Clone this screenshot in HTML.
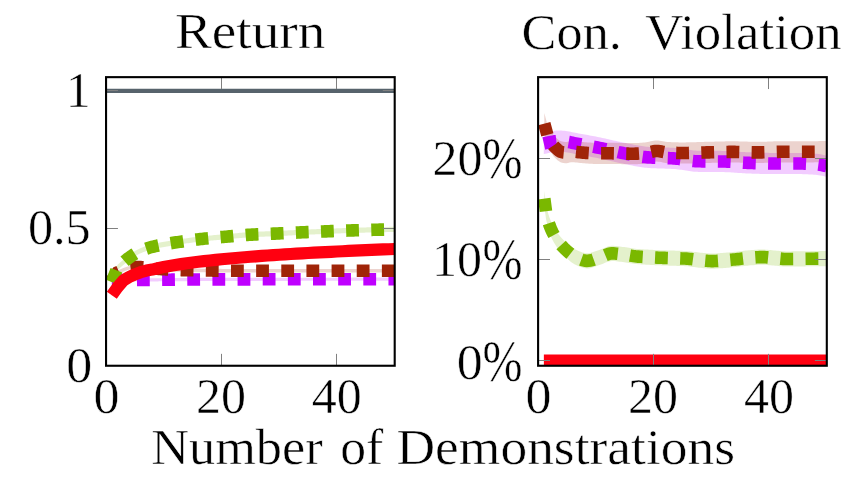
<!DOCTYPE html>
<html>
<head>
<meta charset="utf-8">
<title>Return / Con. Violation</title>
<style>
html, body { margin: 0; padding: 0; background: #ffffff; }
body { width: 857px; height: 479px; overflow: hidden; font-family: "Liberation Serif", serif; }
svg { display: block; }
</style>
</head>
<body>
<svg width="857" height="479" viewBox="0 0 857 479">
<rect x="0" y="0" width="857" height="479" fill="#ffffff"/>
<defs>
<clipPath id="cl"><rect x="106.05" y="77.15" width="288.65" height="288.6"/></clipPath>
<clipPath id="cr"><rect x="538.1" y="77.15" width="288.69999999999993" height="288.6"/></clipPath>
</defs>
<g clip-path="url(#cl)" fill="none">
<line x1="106.05" y1="90.8" x2="394.7" y2="90.8" stroke="#57636c" stroke-width="4.2"/>
<path d="M111.82,278.70 L113.40,278.68 L114.98,278.65 L116.56,278.63 L118.14,278.61 L119.72,278.59 L121.30,278.56 L122.88,278.54 L124.46,278.52 L126.04,278.50 L127.61,278.48 L129.19,278.46 L130.77,278.44 L132.35,278.43 L133.93,278.41 L135.51,278.39 L137.09,278.38 L138.67,278.36 L140.25,278.35 L141.83,278.33 L143.41,278.32 L144.99,278.30 L146.57,278.29 L148.15,278.27 L149.73,278.26 L151.31,278.25 L152.89,278.23 L154.47,278.22 L156.05,278.20 L157.63,278.19 L159.20,278.17 L160.78,278.16 L162.36,278.15 L163.94,278.13 L165.52,278.12 L167.10,278.11 L168.68,278.09 L170.26,278.08 L171.84,278.07 L173.42,278.06 L175.00,278.04 L176.58,278.03 L178.16,278.02 L179.74,278.01 L181.32,278.00 L182.90,277.99 L184.48,277.97 L186.06,277.96 L187.64,277.95 L189.22,277.94 L190.79,277.93 L192.37,277.92 L193.95,277.91 L195.53,277.90 L197.11,277.90 L198.69,277.89 L200.27,277.88 L201.85,277.87 L203.43,277.86 L205.01,277.86 L206.59,277.85 L208.17,277.84 L209.75,277.84 L211.33,277.83 L212.91,277.82 L214.49,277.82 L216.07,277.81 L217.65,277.81 L219.23,277.81 L220.81,277.80 L222.38,277.80 L223.96,277.79 L225.54,277.79 L227.12,277.79 L228.70,277.78 L230.28,277.78 L231.86,277.78 L233.44,277.77 L235.02,277.77 L236.60,277.77 L238.18,277.77 L239.76,277.76 L241.34,277.76 L242.92,277.76 L244.50,277.75 L246.08,277.75 L247.66,277.75 L249.24,277.74 L250.82,277.74 L252.40,277.74 L253.97,277.74 L255.55,277.73 L257.13,277.73 L258.71,277.73 L260.29,277.72 L261.87,277.72 L263.45,277.72 L265.03,277.72 L266.61,277.71 L268.19,277.71 L269.77,277.71 L271.35,277.71 L272.93,277.70 L274.51,277.70 L276.09,277.70 L277.67,277.70 L279.25,277.69 L280.83,277.69 L282.41,277.69 L283.99,277.69 L285.56,277.68 L287.14,277.68 L288.72,277.68 L290.30,277.68 L291.88,277.67 L293.46,277.67 L295.04,277.67 L296.62,277.67 L298.20,277.67 L299.78,277.66 L301.36,277.66 L302.94,277.66 L304.52,277.66 L306.10,277.66 L307.68,277.65 L309.26,277.65 L310.84,277.65 L312.42,277.65 L314.00,277.65 L315.58,277.64 L317.15,277.64 L318.73,277.64 L320.31,277.64 L321.89,277.64 L323.47,277.64 L325.05,277.63 L326.63,277.63 L328.21,277.63 L329.79,277.63 L331.37,277.63 L332.95,277.63 L334.53,277.63 L336.11,277.62 L337.69,277.62 L339.27,277.62 L340.85,277.62 L342.43,277.62 L344.01,277.62 L345.59,277.62 L347.17,277.62 L348.74,277.62 L350.32,277.61 L351.90,277.61 L353.48,277.61 L355.06,277.61 L356.64,277.61 L358.22,277.61 L359.80,277.61 L361.38,277.61 L362.96,277.61 L364.54,277.61 L366.12,277.61 L367.70,277.61 L369.28,277.60 L370.86,277.60 L372.44,277.60 L374.02,277.60 L375.60,277.60 L377.18,277.60 L378.76,277.60 L380.33,277.60 L381.91,277.60 L383.49,277.60 L385.07,277.60 L386.65,277.60 L388.23,277.60 L389.81,277.60 L391.39,277.60 L392.97,277.60 L394.55,277.60 L394.55,280.80 L392.97,280.80 L391.39,280.80 L389.81,280.80 L388.23,280.80 L386.65,280.80 L385.07,280.80 L383.49,280.80 L381.91,280.80 L380.33,280.80 L378.76,280.80 L377.18,280.80 L375.60,280.80 L374.02,280.80 L372.44,280.80 L370.86,280.80 L369.28,280.80 L367.70,280.81 L366.12,280.81 L364.54,280.81 L362.96,280.81 L361.38,280.81 L359.80,280.81 L358.22,280.81 L356.64,280.81 L355.06,280.81 L353.48,280.81 L351.90,280.81 L350.32,280.81 L348.74,280.82 L347.17,280.82 L345.59,280.82 L344.01,280.82 L342.43,280.82 L340.85,280.82 L339.27,280.82 L337.69,280.82 L336.11,280.82 L334.53,280.83 L332.95,280.83 L331.37,280.83 L329.79,280.83 L328.21,280.83 L326.63,280.83 L325.05,280.83 L323.47,280.84 L321.89,280.84 L320.31,280.84 L318.73,280.84 L317.15,280.84 L315.58,280.84 L314.00,280.85 L312.42,280.85 L310.84,280.85 L309.26,280.85 L307.68,280.85 L306.10,280.86 L304.52,280.86 L302.94,280.86 L301.36,280.86 L299.78,280.86 L298.20,280.87 L296.62,280.87 L295.04,280.87 L293.46,280.87 L291.88,280.87 L290.30,280.88 L288.72,280.88 L287.14,280.88 L285.56,280.88 L283.99,280.89 L282.41,280.89 L280.83,280.89 L279.25,280.89 L277.67,280.90 L276.09,280.90 L274.51,280.90 L272.93,280.90 L271.35,280.91 L269.77,280.91 L268.19,280.91 L266.61,280.91 L265.03,280.92 L263.45,280.92 L261.87,280.92 L260.29,280.92 L258.71,280.93 L257.13,280.93 L255.55,280.93 L253.97,280.94 L252.40,280.94 L250.82,280.94 L249.24,280.94 L247.66,280.95 L246.08,280.95 L244.50,280.95 L242.92,280.96 L241.34,280.96 L239.76,280.96 L238.18,280.97 L236.60,280.97 L235.02,280.97 L233.44,280.97 L231.86,280.98 L230.28,280.98 L228.70,280.98 L227.12,280.99 L225.54,280.99 L223.96,280.99 L222.38,281.00 L220.81,281.00 L219.23,281.01 L217.65,281.01 L216.07,281.01 L214.49,281.02 L212.91,281.02 L211.33,281.03 L209.75,281.04 L208.17,281.04 L206.59,281.05 L205.01,281.06 L203.43,281.06 L201.85,281.07 L200.27,281.08 L198.69,281.09 L197.11,281.10 L195.53,281.10 L193.95,281.11 L192.37,281.12 L190.79,281.13 L189.22,281.14 L187.64,281.15 L186.06,281.16 L184.48,281.17 L182.90,281.19 L181.32,281.20 L179.74,281.21 L178.16,281.22 L176.58,281.23 L175.00,281.24 L173.42,281.26 L171.84,281.27 L170.26,281.28 L168.68,281.29 L167.10,281.31 L165.52,281.32 L163.94,281.33 L162.36,281.35 L160.78,281.36 L159.20,281.37 L157.63,281.39 L156.05,281.40 L154.47,281.42 L152.89,281.43 L151.31,281.45 L149.73,281.46 L148.15,281.47 L146.57,281.49 L144.99,281.50 L143.41,281.52 L141.83,281.53 L140.25,281.55 L138.67,281.56 L137.09,281.58 L135.51,281.59 L133.93,281.61 L132.35,281.63 L130.77,281.64 L129.19,281.66 L127.61,281.68 L126.04,281.70 L124.46,281.72 L122.88,281.74 L121.30,281.76 L119.72,281.79 L118.14,281.81 L116.56,281.83 L114.98,281.85 L113.40,281.88 L111.82,281.90 Z" fill="#bf00ff" fill-opacity="0.2"/>
<path d="M111.77,278.70 L117.54,270.60 L124.00,267.80 L125.51,267.21 L127.02,266.69 L128.53,266.24 L130.04,265.91 L131.56,265.68 L133.07,265.48 L134.58,265.32 L136.09,265.22 L137.60,265.20 L139.11,265.25 L140.62,265.33 L142.13,265.43 L143.65,265.53 L145.16,265.69 L146.67,265.90 L148.18,266.12 L149.69,266.34 L151.20,266.53 L152.71,266.66 L154.22,266.78 L155.73,266.89 L157.25,267.01 L158.76,267.12 L160.27,267.22 L161.78,267.33 L163.29,267.43 L164.80,267.52 L166.31,267.62 L167.82,267.70 L169.34,267.79 L170.85,267.87 L172.36,267.94 L173.87,268.01 L175.38,268.08 L176.89,268.14 L178.40,268.20 L179.91,268.25 L181.42,268.30 L182.94,268.34 L184.45,268.37 L185.96,268.40 L187.47,268.42 L188.98,268.45 L190.49,268.48 L192.00,268.50 L193.51,268.52 L195.03,268.55 L196.54,268.57 L198.05,268.59 L199.56,268.61 L201.07,268.64 L202.58,268.66 L204.09,268.68 L205.60,268.70 L207.11,268.72 L208.63,268.73 L210.14,268.75 L211.65,268.77 L213.16,268.79 L214.67,268.80 L216.18,268.82 L217.69,268.83 L219.20,268.85 L220.72,268.86 L222.23,268.88 L223.74,268.89 L225.25,268.90 L226.76,268.91 L228.27,268.92 L229.78,268.93 L231.29,268.94 L232.80,268.95 L234.32,268.96 L235.83,268.97 L237.34,268.97 L238.85,268.98 L240.36,268.98 L241.87,268.99 L243.38,268.99 L244.89,269.00 L246.41,269.00 L247.92,269.00 L249.43,269.00 L250.94,269.00 L252.45,269.00 L253.96,269.00 L255.47,269.00 L256.98,269.00 L258.49,269.00 L260.01,269.00 L261.52,269.00 L263.03,269.00 L264.54,269.00 L266.05,269.00 L267.56,269.00 L269.07,269.00 L270.58,269.00 L272.09,269.00 L273.61,269.00 L275.12,269.00 L276.63,269.00 L278.14,269.00 L279.65,269.00 L281.16,269.00 L282.67,269.00 L284.18,269.00 L285.70,269.00 L287.21,269.00 L288.72,269.00 L290.23,269.00 L291.74,269.00 L293.25,269.00 L294.76,269.00 L296.27,269.00 L297.78,269.00 L299.30,269.00 L300.81,269.00 L302.32,269.00 L303.83,269.00 L305.34,269.00 L306.85,269.00 L308.36,269.00 L309.87,269.00 L311.39,269.00 L312.90,269.00 L314.41,269.00 L315.92,269.00 L317.43,269.00 L318.94,269.00 L320.45,269.00 L321.96,269.00 L323.47,269.00 L324.99,269.00 L326.50,269.00 L328.01,269.00 L329.52,269.00 L331.03,269.00 L332.54,269.00 L334.05,269.00 L335.56,269.00 L337.08,269.00 L338.59,269.00 L340.10,269.00 L341.61,269.00 L343.12,269.00 L344.63,269.00 L346.14,269.00 L347.65,269.00 L349.16,269.00 L350.68,269.00 L352.19,269.00 L353.70,269.00 L355.21,269.00 L356.72,269.00 L358.23,269.00 L359.74,269.00 L361.25,269.00 L362.77,269.00 L364.28,269.00 L365.79,269.00 L367.30,269.00 L368.81,269.00 L370.32,269.00 L371.83,269.00 L373.34,269.00 L374.85,269.00 L376.37,269.00 L377.88,269.00 L379.39,269.00 L380.90,269.00 L382.41,269.00 L383.92,269.00 L385.43,269.00 L386.94,269.00 L388.46,269.00 L389.97,269.00 L391.48,269.00 L392.99,269.00 L394.50,269.00 L394.50,272.60 L392.99,272.60 L391.48,272.60 L389.97,272.60 L388.46,272.60 L386.94,272.60 L385.43,272.60 L383.92,272.60 L382.41,272.60 L380.90,272.60 L379.39,272.60 L377.88,272.60 L376.37,272.60 L374.85,272.60 L373.34,272.60 L371.83,272.60 L370.32,272.60 L368.81,272.60 L367.30,272.60 L365.79,272.60 L364.28,272.60 L362.77,272.60 L361.25,272.60 L359.74,272.60 L358.23,272.60 L356.72,272.60 L355.21,272.60 L353.70,272.60 L352.19,272.60 L350.68,272.60 L349.16,272.60 L347.65,272.60 L346.14,272.60 L344.63,272.60 L343.12,272.60 L341.61,272.60 L340.10,272.60 L338.59,272.60 L337.08,272.60 L335.56,272.60 L334.05,272.60 L332.54,272.60 L331.03,272.60 L329.52,272.60 L328.01,272.60 L326.50,272.60 L324.99,272.60 L323.47,272.60 L321.96,272.60 L320.45,272.60 L318.94,272.60 L317.43,272.60 L315.92,272.60 L314.41,272.60 L312.90,272.60 L311.39,272.60 L309.87,272.60 L308.36,272.60 L306.85,272.60 L305.34,272.60 L303.83,272.60 L302.32,272.60 L300.81,272.60 L299.30,272.60 L297.78,272.60 L296.27,272.60 L294.76,272.60 L293.25,272.60 L291.74,272.60 L290.23,272.60 L288.72,272.60 L287.21,272.60 L285.70,272.60 L284.18,272.60 L282.67,272.60 L281.16,272.60 L279.65,272.60 L278.14,272.60 L276.63,272.60 L275.12,272.60 L273.61,272.60 L272.09,272.60 L270.58,272.60 L269.07,272.60 L267.56,272.60 L266.05,272.60 L264.54,272.60 L263.03,272.60 L261.52,272.60 L260.01,272.60 L258.49,272.60 L256.98,272.60 L255.47,272.60 L253.96,272.60 L252.45,272.60 L250.94,272.60 L249.43,272.60 L247.92,272.60 L246.41,272.60 L244.89,272.60 L243.38,272.59 L241.87,272.59 L240.36,272.58 L238.85,272.58 L237.34,272.57 L235.83,272.57 L234.32,272.56 L232.80,272.55 L231.29,272.54 L229.78,272.53 L228.27,272.52 L226.76,272.51 L225.25,272.50 L223.74,272.49 L222.23,272.48 L220.72,272.46 L219.20,272.45 L217.69,272.43 L216.18,272.42 L214.67,272.40 L213.16,272.39 L211.65,272.37 L210.14,272.35 L208.63,272.33 L207.11,272.32 L205.60,272.30 L204.09,272.28 L202.58,272.26 L201.07,272.24 L199.56,272.21 L198.05,272.19 L196.54,272.17 L195.03,272.15 L193.51,272.12 L192.00,272.10 L190.49,272.08 L188.98,272.05 L187.47,272.02 L185.96,272.00 L184.45,271.97 L182.94,271.94 L181.42,271.90 L179.91,271.85 L178.40,271.80 L176.89,271.74 L175.38,271.68 L173.87,271.61 L172.36,271.54 L170.85,271.47 L169.34,271.39 L167.82,271.30 L166.31,271.22 L164.80,271.12 L163.29,271.03 L161.78,270.93 L160.27,270.82 L158.76,270.72 L157.25,270.61 L155.73,270.49 L154.22,270.38 L152.71,270.26 L151.20,270.13 L149.69,269.94 L148.18,269.72 L146.67,269.50 L145.16,269.29 L143.65,269.13 L142.13,269.03 L140.62,268.93 L139.11,268.85 L137.60,268.80 L136.09,268.82 L134.58,268.92 L133.07,269.08 L131.56,269.28 L130.04,269.51 L128.53,269.84 L127.02,270.29 L125.51,270.81 L124.00,271.40 L117.54,274.20 L111.77,282.30 Z" fill="#a02408" fill-opacity="0.2"/>
<path d="M111.77,279.50 L117.54,264.70 L123.30,259.80 L124.82,258.49 L126.33,257.22 L127.85,256.02 L129.36,254.90 L130.88,253.84 L132.39,252.80 L133.91,251.79 L135.42,250.84 L136.94,249.95 L138.45,249.13 L139.97,248.41 L141.48,247.77 L143.00,247.17 L144.51,246.60 L146.03,246.07 L147.54,245.58 L149.06,245.12 L150.57,244.70 L152.09,244.30 L153.60,243.93 L155.12,243.58 L156.63,243.24 L158.15,242.92 L159.66,242.61 L161.18,242.31 L162.69,242.02 L164.21,241.74 L165.72,241.47 L167.24,241.21 L168.75,240.95 L170.27,240.70 L171.78,240.46 L173.30,240.22 L174.81,239.98 L176.33,239.74 L177.84,239.51 L179.36,239.27 L180.87,239.05 L182.39,238.82 L183.90,238.60 L185.42,238.38 L186.93,238.17 L188.45,237.96 L189.96,237.76 L191.48,237.56 L192.99,237.37 L194.51,237.17 L196.02,236.99 L197.54,236.81 L199.05,236.63 L200.57,236.46 L202.08,236.29 L203.60,236.13 L205.11,235.97 L206.63,235.82 L208.14,235.67 L209.66,235.52 L211.17,235.38 L212.69,235.24 L214.21,235.10 L215.72,234.97 L217.24,234.84 L218.75,234.70 L220.27,234.57 L221.78,234.45 L223.30,234.32 L224.81,234.19 L226.33,234.06 L227.84,233.93 L229.36,233.80 L230.87,233.66 L232.39,233.53 L233.90,233.39 L235.42,233.26 L236.93,233.13 L238.45,232.99 L239.96,232.87 L241.48,232.74 L242.99,232.62 L244.51,232.50 L246.02,232.38 L247.54,232.28 L249.05,232.17 L250.57,232.08 L252.08,231.99 L253.60,231.91 L255.11,231.83 L256.63,231.75 L258.14,231.68 L259.66,231.62 L261.17,231.55 L262.69,231.49 L264.20,231.43 L265.72,231.37 L267.23,231.31 L268.75,231.25 L270.26,231.19 L271.78,231.13 L273.29,231.07 L274.81,231.00 L276.32,230.93 L277.84,230.87 L279.35,230.80 L280.87,230.72 L282.38,230.65 L283.90,230.58 L285.41,230.50 L286.93,230.43 L288.44,230.36 L289.96,230.28 L291.47,230.21 L292.99,230.13 L294.50,230.06 L296.02,229.99 L297.53,229.92 L299.05,229.85 L300.56,229.78 L302.08,229.71 L303.59,229.64 L305.11,229.58 L306.63,229.52 L308.14,229.45 L309.66,229.39 L311.17,229.33 L312.69,229.27 L314.20,229.21 L315.72,229.15 L317.23,229.09 L318.75,229.03 L320.26,228.97 L321.78,228.91 L323.29,228.85 L324.81,228.79 L326.32,228.74 L327.84,228.68 L329.35,228.62 L330.87,228.56 L332.38,228.51 L333.90,228.45 L335.41,228.39 L336.93,228.34 L338.44,228.28 L339.96,228.23 L341.47,228.17 L342.99,228.12 L344.50,228.06 L346.02,228.01 L347.53,227.96 L349.05,227.91 L350.56,227.86 L352.08,227.81 L353.59,227.76 L355.11,227.72 L356.62,227.67 L358.14,227.62 L359.65,227.58 L361.17,227.53 L362.68,227.49 L364.20,227.44 L365.71,227.40 L367.23,227.36 L368.74,227.32 L370.26,227.28 L371.77,227.24 L373.29,227.20 L374.80,227.16 L376.32,227.13 L377.83,227.10 L379.35,227.07 L380.86,227.03 L382.38,227.00 L383.89,226.98 L385.41,226.95 L386.92,226.92 L388.44,226.89 L389.95,226.87 L391.47,226.84 L392.98,226.82 L394.50,226.80 L394.50,232.00 L392.98,232.02 L391.47,232.04 L389.95,232.07 L388.44,232.09 L386.92,232.12 L385.41,232.15 L383.89,232.18 L382.38,232.20 L380.86,232.23 L379.35,232.27 L377.83,232.30 L376.32,232.33 L374.80,232.36 L373.29,232.40 L371.77,232.44 L370.26,232.48 L368.74,232.52 L367.23,232.56 L365.71,232.60 L364.20,232.64 L362.68,232.69 L361.17,232.73 L359.65,232.78 L358.14,232.82 L356.62,232.87 L355.11,232.92 L353.59,232.96 L352.08,233.01 L350.56,233.06 L349.05,233.11 L347.53,233.16 L346.02,233.21 L344.50,233.26 L342.99,233.32 L341.47,233.37 L339.96,233.43 L338.44,233.48 L336.93,233.54 L335.41,233.59 L333.90,233.65 L332.38,233.71 L330.87,233.76 L329.35,233.82 L327.84,233.88 L326.32,233.94 L324.81,233.99 L323.29,234.05 L321.78,234.11 L320.26,234.17 L318.75,234.23 L317.23,234.29 L315.72,234.35 L314.20,234.41 L312.69,234.47 L311.17,234.53 L309.66,234.59 L308.14,234.65 L306.63,234.72 L305.11,234.78 L303.59,234.84 L302.08,234.91 L300.56,234.98 L299.05,235.05 L297.53,235.12 L296.02,235.19 L294.50,235.26 L292.99,235.33 L291.47,235.41 L289.96,235.48 L288.44,235.56 L286.93,235.63 L285.41,235.70 L283.90,235.78 L282.38,235.85 L280.87,235.92 L279.35,236.00 L277.84,236.07 L276.32,236.13 L274.81,236.20 L273.29,236.27 L271.78,236.33 L270.26,236.39 L268.75,236.45 L267.23,236.51 L265.72,236.57 L264.20,236.63 L262.69,236.69 L261.17,236.75 L259.66,236.82 L258.14,236.88 L256.63,236.95 L255.11,237.03 L253.60,237.11 L252.08,237.19 L250.57,237.28 L249.05,237.37 L247.54,237.48 L246.02,237.58 L244.51,237.70 L242.99,237.82 L241.48,237.94 L239.96,238.07 L238.45,238.19 L236.93,238.33 L235.42,238.46 L233.90,238.59 L232.39,238.73 L230.87,238.86 L229.36,239.00 L227.84,239.13 L226.33,239.26 L224.81,239.39 L223.30,239.52 L221.78,239.65 L220.27,239.77 L218.75,239.90 L217.24,240.04 L215.72,240.17 L214.21,240.30 L212.69,240.44 L211.17,240.58 L209.66,240.72 L208.14,240.87 L206.63,241.02 L205.11,241.17 L203.60,241.33 L202.08,241.49 L200.57,241.66 L199.05,241.83 L197.54,242.01 L196.02,242.19 L194.51,242.37 L192.99,242.57 L191.48,242.76 L189.96,242.96 L188.45,243.16 L186.93,243.37 L185.42,243.58 L183.90,243.80 L182.39,244.02 L180.87,244.25 L179.36,244.47 L177.84,244.71 L176.33,244.94 L174.81,245.18 L173.30,245.42 L171.78,245.66 L170.27,245.90 L168.75,246.15 L167.24,246.41 L165.72,246.67 L164.21,246.94 L162.69,247.22 L161.18,247.51 L159.66,247.81 L158.15,248.12 L156.63,248.44 L155.12,248.78 L153.60,249.13 L152.09,249.50 L150.57,249.90 L149.06,250.32 L147.54,250.78 L146.03,251.27 L144.51,251.80 L143.00,252.37 L141.48,252.97 L139.97,253.61 L138.45,254.33 L136.94,255.15 L135.42,256.04 L133.91,256.99 L132.39,258.00 L130.88,259.04 L129.36,260.10 L127.85,261.22 L126.33,262.42 L124.82,263.69 L123.30,265.00 L117.54,269.90 L111.77,284.70 Z" fill="#7ab800" fill-opacity="0.2"/>
<path d="M111.82,294.30 L117.59,286.19 L123.36,279.46 L129.13,276.03 L134.90,273.42 L140.67,271.22 L146.44,269.57 L152.21,268.60 L157.98,267.27 L163.75,266.09 L169.52,265.02 L175.29,264.04 L181.06,263.14 L186.83,262.31 L192.60,261.53 L198.37,260.81 L204.14,260.12 L209.91,259.48 L215.68,258.87 L221.45,258.30 L227.22,257.75 L232.99,257.23 L238.76,256.73 L244.53,256.25 L250.30,255.79 L256.07,255.35 L261.84,254.93 L267.61,254.52 L273.38,254.12 L279.15,253.74 L284.92,253.37 L290.69,253.02 L296.46,252.67 L302.23,252.34 L308.00,252.01 L313.77,251.69 L319.54,251.39 L325.31,251.09 L331.08,250.79 L336.85,250.51 L342.62,250.23 L348.39,249.96 L354.16,249.70 L359.93,249.44 L365.70,249.19 L371.47,248.94 L377.24,248.70 L383.01,248.46 L388.78,248.23 L394.55,248.00 L394.55,250.00 L388.78,250.23 L383.01,250.46 L377.24,250.70 L371.47,250.94 L365.70,251.19 L359.93,251.44 L354.16,251.70 L348.39,251.96 L342.62,252.23 L336.85,252.51 L331.08,252.79 L325.31,253.09 L319.54,253.39 L313.77,253.69 L308.00,254.01 L302.23,254.34 L296.46,254.67 L290.69,255.02 L284.92,255.37 L279.15,255.74 L273.38,256.12 L267.61,256.52 L261.84,256.93 L256.07,257.35 L250.30,257.79 L244.53,258.25 L238.76,258.73 L232.99,259.23 L227.22,259.75 L221.45,260.30 L215.68,260.87 L209.91,261.48 L204.14,262.12 L198.37,262.81 L192.60,263.53 L186.83,264.31 L181.06,265.14 L175.29,266.04 L169.52,267.02 L163.75,268.09 L157.98,269.27 L152.21,270.60 L146.44,271.57 L140.67,273.22 L134.90,275.42 L129.13,278.03 L123.36,281.46 L117.59,288.19 L111.82,296.30 Z" fill="#ff0010" fill-opacity="0.2"/>
<path d="M111.82,280.30 L113.40,280.28 L114.98,280.25 L116.56,280.23 L118.14,280.21 L119.72,280.19 L121.30,280.16 L122.88,280.14 L124.46,280.12 L126.04,280.10 L127.61,280.08 L129.19,280.06 L130.77,280.04 L132.35,280.03 L133.93,280.01 L135.51,279.99 L137.09,279.98 L138.67,279.96 L140.25,279.95 L141.83,279.93 L143.41,279.92 L144.99,279.90 L146.57,279.89 L148.15,279.87 L149.73,279.86 L151.31,279.85 L152.89,279.83 L154.47,279.82 L156.05,279.80 L157.63,279.79 L159.20,279.77 L160.78,279.76 L162.36,279.75 L163.94,279.73 L165.52,279.72 L167.10,279.71 L168.68,279.69 L170.26,279.68 L171.84,279.67 L173.42,279.66 L175.00,279.64 L176.58,279.63 L178.16,279.62 L179.74,279.61 L181.32,279.60 L182.90,279.59 L184.48,279.57 L186.06,279.56 L187.64,279.55 L189.22,279.54 L190.79,279.53 L192.37,279.52 L193.95,279.51 L195.53,279.50 L197.11,279.50 L198.69,279.49 L200.27,279.48 L201.85,279.47 L203.43,279.46 L205.01,279.46 L206.59,279.45 L208.17,279.44 L209.75,279.44 L211.33,279.43 L212.91,279.42 L214.49,279.42 L216.07,279.41 L217.65,279.41 L219.23,279.41 L220.81,279.40 L222.38,279.40 L223.96,279.39 L225.54,279.39 L227.12,279.39 L228.70,279.38 L230.28,279.38 L231.86,279.38 L233.44,279.37 L235.02,279.37 L236.60,279.37 L238.18,279.37 L239.76,279.36 L241.34,279.36 L242.92,279.36 L244.50,279.35 L246.08,279.35 L247.66,279.35 L249.24,279.34 L250.82,279.34 L252.40,279.34 L253.97,279.34 L255.55,279.33 L257.13,279.33 L258.71,279.33 L260.29,279.32 L261.87,279.32 L263.45,279.32 L265.03,279.32 L266.61,279.31 L268.19,279.31 L269.77,279.31 L271.35,279.31 L272.93,279.30 L274.51,279.30 L276.09,279.30 L277.67,279.30 L279.25,279.29 L280.83,279.29 L282.41,279.29 L283.99,279.29 L285.56,279.28 L287.14,279.28 L288.72,279.28 L290.30,279.28 L291.88,279.27 L293.46,279.27 L295.04,279.27 L296.62,279.27 L298.20,279.27 L299.78,279.26 L301.36,279.26 L302.94,279.26 L304.52,279.26 L306.10,279.26 L307.68,279.25 L309.26,279.25 L310.84,279.25 L312.42,279.25 L314.00,279.25 L315.58,279.24 L317.15,279.24 L318.73,279.24 L320.31,279.24 L321.89,279.24 L323.47,279.24 L325.05,279.23 L326.63,279.23 L328.21,279.23 L329.79,279.23 L331.37,279.23 L332.95,279.23 L334.53,279.23 L336.11,279.22 L337.69,279.22 L339.27,279.22 L340.85,279.22 L342.43,279.22 L344.01,279.22 L345.59,279.22 L347.17,279.22 L348.74,279.22 L350.32,279.21 L351.90,279.21 L353.48,279.21 L355.06,279.21 L356.64,279.21 L358.22,279.21 L359.80,279.21 L361.38,279.21 L362.96,279.21 L364.54,279.21 L366.12,279.21 L367.70,279.21 L369.28,279.20 L370.86,279.20 L372.44,279.20 L374.02,279.20 L375.60,279.20 L377.18,279.20 L378.76,279.20 L380.33,279.20 L381.91,279.20 L383.49,279.20 L385.07,279.20 L386.65,279.20 L388.23,279.20 L389.81,279.20 L391.39,279.20 L392.97,279.20 L394.55,279.20" stroke="#bf00ff" stroke-width="12.6" stroke-dasharray="12.8 12.35"/>
<path d="M111.77,280.50 L117.54,272.40 L124.00,269.60 L125.51,269.01 L127.02,268.49 L128.53,268.04 L130.04,267.71 L131.56,267.48 L133.07,267.28 L134.58,267.12 L136.09,267.02 L137.60,267.00 L139.11,267.05 L140.62,267.13 L142.13,267.23 L143.65,267.33 L145.16,267.49 L146.67,267.70 L148.18,267.92 L149.69,268.14 L151.20,268.33 L152.71,268.46 L154.22,268.58 L155.73,268.69 L157.25,268.81 L158.76,268.92 L160.27,269.02 L161.78,269.13 L163.29,269.23 L164.80,269.32 L166.31,269.42 L167.82,269.50 L169.34,269.59 L170.85,269.67 L172.36,269.74 L173.87,269.81 L175.38,269.88 L176.89,269.94 L178.40,270.00 L179.91,270.05 L181.42,270.10 L182.94,270.14 L184.45,270.17 L185.96,270.20 L187.47,270.22 L188.98,270.25 L190.49,270.28 L192.00,270.30 L193.51,270.32 L195.03,270.35 L196.54,270.37 L198.05,270.39 L199.56,270.41 L201.07,270.44 L202.58,270.46 L204.09,270.48 L205.60,270.50 L207.11,270.52 L208.63,270.53 L210.14,270.55 L211.65,270.57 L213.16,270.59 L214.67,270.60 L216.18,270.62 L217.69,270.63 L219.20,270.65 L220.72,270.66 L222.23,270.68 L223.74,270.69 L225.25,270.70 L226.76,270.71 L228.27,270.72 L229.78,270.73 L231.29,270.74 L232.80,270.75 L234.32,270.76 L235.83,270.77 L237.34,270.77 L238.85,270.78 L240.36,270.78 L241.87,270.79 L243.38,270.79 L244.89,270.80 L246.41,270.80 L247.92,270.80 L249.43,270.80 L250.94,270.80 L252.45,270.80 L253.96,270.80 L255.47,270.80 L256.98,270.80 L258.49,270.80 L260.01,270.80 L261.52,270.80 L263.03,270.80 L264.54,270.80 L266.05,270.80 L267.56,270.80 L269.07,270.80 L270.58,270.80 L272.09,270.80 L273.61,270.80 L275.12,270.80 L276.63,270.80 L278.14,270.80 L279.65,270.80 L281.16,270.80 L282.67,270.80 L284.18,270.80 L285.70,270.80 L287.21,270.80 L288.72,270.80 L290.23,270.80 L291.74,270.80 L293.25,270.80 L294.76,270.80 L296.27,270.80 L297.78,270.80 L299.30,270.80 L300.81,270.80 L302.32,270.80 L303.83,270.80 L305.34,270.80 L306.85,270.80 L308.36,270.80 L309.87,270.80 L311.39,270.80 L312.90,270.80 L314.41,270.80 L315.92,270.80 L317.43,270.80 L318.94,270.80 L320.45,270.80 L321.96,270.80 L323.47,270.80 L324.99,270.80 L326.50,270.80 L328.01,270.80 L329.52,270.80 L331.03,270.80 L332.54,270.80 L334.05,270.80 L335.56,270.80 L337.08,270.80 L338.59,270.80 L340.10,270.80 L341.61,270.80 L343.12,270.80 L344.63,270.80 L346.14,270.80 L347.65,270.80 L349.16,270.80 L350.68,270.80 L352.19,270.80 L353.70,270.80 L355.21,270.80 L356.72,270.80 L358.23,270.80 L359.74,270.80 L361.25,270.80 L362.77,270.80 L364.28,270.80 L365.79,270.80 L367.30,270.80 L368.81,270.80 L370.32,270.80 L371.83,270.80 L373.34,270.80 L374.85,270.80 L376.37,270.80 L377.88,270.80 L379.39,270.80 L380.90,270.80 L382.41,270.80 L383.92,270.80 L385.43,270.80 L386.94,270.80 L388.46,270.80 L389.97,270.80 L391.48,270.80 L392.99,270.80 L394.50,270.80" stroke="#a02408" stroke-width="12.6" stroke-dasharray="12.8 12.35" stroke-dashoffset="1.3"/>
<path d="M111.77,282.10 L117.54,267.30 L123.30,262.40 L124.82,261.09 L126.33,259.82 L127.85,258.62 L129.36,257.50 L130.88,256.44 L132.39,255.40 L133.91,254.39 L135.42,253.44 L136.94,252.55 L138.45,251.73 L139.97,251.01 L141.48,250.37 L143.00,249.77 L144.51,249.20 L146.03,248.67 L147.54,248.18 L149.06,247.72 L150.57,247.30 L152.09,246.90 L153.60,246.53 L155.12,246.18 L156.63,245.84 L158.15,245.52 L159.66,245.21 L161.18,244.91 L162.69,244.62 L164.21,244.34 L165.72,244.07 L167.24,243.81 L168.75,243.55 L170.27,243.30 L171.78,243.06 L173.30,242.82 L174.81,242.58 L176.33,242.34 L177.84,242.11 L179.36,241.87 L180.87,241.65 L182.39,241.42 L183.90,241.20 L185.42,240.98 L186.93,240.77 L188.45,240.56 L189.96,240.36 L191.48,240.16 L192.99,239.97 L194.51,239.77 L196.02,239.59 L197.54,239.41 L199.05,239.23 L200.57,239.06 L202.08,238.89 L203.60,238.73 L205.11,238.57 L206.63,238.42 L208.14,238.27 L209.66,238.12 L211.17,237.98 L212.69,237.84 L214.21,237.70 L215.72,237.57 L217.24,237.44 L218.75,237.30 L220.27,237.17 L221.78,237.05 L223.30,236.92 L224.81,236.79 L226.33,236.66 L227.84,236.53 L229.36,236.40 L230.87,236.26 L232.39,236.13 L233.90,235.99 L235.42,235.86 L236.93,235.73 L238.45,235.59 L239.96,235.47 L241.48,235.34 L242.99,235.22 L244.51,235.10 L246.02,234.98 L247.54,234.88 L249.05,234.77 L250.57,234.68 L252.08,234.59 L253.60,234.51 L255.11,234.43 L256.63,234.35 L258.14,234.28 L259.66,234.22 L261.17,234.15 L262.69,234.09 L264.20,234.03 L265.72,233.97 L267.23,233.91 L268.75,233.85 L270.26,233.79 L271.78,233.73 L273.29,233.67 L274.81,233.60 L276.32,233.53 L277.84,233.47 L279.35,233.40 L280.87,233.32 L282.38,233.25 L283.90,233.18 L285.41,233.10 L286.93,233.03 L288.44,232.96 L289.96,232.88 L291.47,232.81 L292.99,232.73 L294.50,232.66 L296.02,232.59 L297.53,232.52 L299.05,232.45 L300.56,232.38 L302.08,232.31 L303.59,232.24 L305.11,232.18 L306.63,232.12 L308.14,232.05 L309.66,231.99 L311.17,231.93 L312.69,231.87 L314.20,231.81 L315.72,231.75 L317.23,231.69 L318.75,231.63 L320.26,231.57 L321.78,231.51 L323.29,231.45 L324.81,231.39 L326.32,231.34 L327.84,231.28 L329.35,231.22 L330.87,231.16 L332.38,231.11 L333.90,231.05 L335.41,230.99 L336.93,230.94 L338.44,230.88 L339.96,230.83 L341.47,230.77 L342.99,230.72 L344.50,230.66 L346.02,230.61 L347.53,230.56 L349.05,230.51 L350.56,230.46 L352.08,230.41 L353.59,230.36 L355.11,230.32 L356.62,230.27 L358.14,230.22 L359.65,230.18 L361.17,230.13 L362.68,230.09 L364.20,230.04 L365.71,230.00 L367.23,229.96 L368.74,229.92 L370.26,229.88 L371.77,229.84 L373.29,229.80 L374.80,229.76 L376.32,229.73 L377.83,229.70 L379.35,229.67 L380.86,229.63 L382.38,229.60 L383.89,229.58 L385.41,229.55 L386.92,229.52 L388.44,229.49 L389.95,229.47 L391.47,229.44 L392.98,229.42 L394.50,229.40" stroke="#7ab800" stroke-width="12.6" stroke-dasharray="12.8 12.35"/>
<path d="M111.82,295.30 L117.59,287.19 L123.36,280.46 L129.13,277.03 L134.90,274.42 L140.67,272.22 L146.44,270.57 L152.21,269.60 L157.98,268.27 L163.75,267.09 L169.52,266.02 L175.29,265.04 L181.06,264.14 L186.83,263.31 L192.60,262.53 L198.37,261.81 L204.14,261.12 L209.91,260.48 L215.68,259.87 L221.45,259.30 L227.22,258.75 L232.99,258.23 L238.76,257.73 L244.53,257.25 L250.30,256.79 L256.07,256.35 L261.84,255.93 L267.61,255.52 L273.38,255.12 L279.15,254.74 L284.92,254.37 L290.69,254.02 L296.46,253.67 L302.23,253.34 L308.00,253.01 L313.77,252.69 L319.54,252.39 L325.31,252.09 L331.08,251.79 L336.85,251.51 L342.62,251.23 L348.39,250.96 L354.16,250.70 L359.93,250.44 L365.70,250.19 L371.47,249.94 L377.24,249.70 L383.01,249.46 L388.78,249.23 L394.55,249.00" stroke="#ff0010" stroke-width="12.2" stroke-linejoin="round"/>
</g>
<g clip-path="url(#cr)" fill="none">
<path d="M543.80,132.90 L545.38,132.53 L546.96,132.18 L548.54,131.86 L550.12,131.58 L551.70,131.30 L553.28,131.01 L554.86,130.75 L556.44,130.57 L558.02,130.50 L559.60,130.53 L561.18,130.60 L562.76,130.71 L564.34,130.85 L565.92,130.99 L567.50,131.19 L569.08,131.46 L570.66,131.79 L572.24,132.14 L573.82,132.48 L575.40,132.79 L576.98,133.09 L578.56,133.38 L580.14,133.67 L581.72,133.96 L583.30,134.25 L584.88,134.54 L586.46,134.82 L588.04,135.11 L589.62,135.40 L591.20,135.70 L592.78,135.99 L594.36,136.29 L595.94,136.59 L597.52,136.90 L599.10,137.22 L600.68,137.54 L602.26,137.88 L603.84,138.22 L605.42,138.57 L607.00,138.93 L608.58,139.29 L610.16,139.66 L611.74,140.02 L613.32,140.39 L614.89,140.75 L616.47,141.10 L618.05,141.45 L619.63,141.78 L621.21,142.11 L622.79,142.42 L624.37,142.73 L625.95,143.05 L627.53,143.38 L629.11,143.70 L630.69,144.03 L632.27,144.36 L633.85,144.68 L635.43,144.99 L637.01,145.29 L638.59,145.57 L640.17,145.84 L641.75,146.08 L643.33,146.30 L644.91,146.49 L646.49,146.65 L648.07,146.78 L649.65,146.88 L651.23,146.96 L652.81,147.04 L654.39,147.10 L655.97,147.16 L657.55,147.22 L659.13,147.26 L660.71,147.31 L662.29,147.36 L663.87,147.40 L665.45,147.45 L667.03,147.51 L668.61,147.57 L670.19,147.63 L671.77,147.71 L673.35,147.80 L674.93,147.91 L676.51,148.06 L678.09,148.24 L679.67,148.44 L681.25,148.67 L682.83,148.91 L684.41,149.15 L685.99,149.40 L687.57,149.64 L689.15,149.87 L690.73,150.08 L692.31,150.27 L693.89,150.44 L695.47,150.57 L697.05,150.66 L698.63,150.70 L700.21,150.72 L701.79,150.74 L703.37,150.76 L704.95,150.77 L706.53,150.78 L708.11,150.79 L709.69,150.80 L711.27,150.80 L712.85,150.81 L714.43,150.82 L716.01,150.83 L717.59,150.84 L719.17,150.85 L720.75,150.87 L722.33,150.89 L723.91,150.91 L725.49,150.95 L727.07,151.00 L728.65,151.07 L730.23,151.16 L731.81,151.25 L733.39,151.36 L734.97,151.47 L736.55,151.58 L738.13,151.69 L739.71,151.80 L741.29,151.91 L742.87,152.02 L744.45,152.11 L746.03,152.19 L747.61,152.26 L749.19,152.32 L750.77,152.37 L752.35,152.43 L753.93,152.48 L755.51,152.53 L757.08,152.58 L758.66,152.63 L760.24,152.68 L761.82,152.72 L763.40,152.76 L764.98,152.80 L766.56,152.83 L768.14,152.86 L769.72,152.88 L771.30,152.89 L772.88,152.90 L774.46,152.90 L776.04,152.90 L777.62,152.90 L779.20,152.90 L780.78,152.90 L782.36,152.90 L783.94,152.90 L785.52,152.90 L787.10,152.90 L788.68,152.90 L790.26,152.90 L791.84,152.90 L793.42,152.90 L795.00,152.90 L796.58,152.90 L798.16,152.90 L799.74,152.90 L801.32,152.92 L802.90,152.95 L804.48,152.99 L806.06,153.06 L807.64,153.13 L809.22,153.22 L810.80,153.31 L812.38,153.42 L813.96,153.53 L815.54,153.64 L817.12,153.81 L818.70,154.02 L820.28,154.28 L821.86,154.58 L823.44,154.90 L825.02,155.25 L826.60,155.60 L826.60,176.80 L825.02,176.45 L823.44,176.10 L821.86,175.78 L820.28,175.48 L818.70,175.22 L817.12,175.01 L815.54,174.84 L813.96,174.73 L812.38,174.62 L810.80,174.51 L809.22,174.42 L807.64,174.33 L806.06,174.26 L804.48,174.19 L802.90,174.15 L801.32,174.12 L799.74,174.10 L798.16,174.10 L796.58,174.10 L795.00,174.10 L793.42,174.10 L791.84,174.10 L790.26,174.10 L788.68,174.10 L787.10,174.10 L785.52,174.10 L783.94,174.10 L782.36,174.10 L780.78,174.10 L779.20,174.10 L777.62,174.10 L776.04,174.10 L774.46,174.10 L772.88,174.10 L771.30,174.09 L769.72,174.08 L768.14,174.06 L766.56,174.03 L764.98,174.00 L763.40,173.96 L761.82,173.92 L760.24,173.88 L758.66,173.83 L757.08,173.78 L755.51,173.73 L753.93,173.68 L752.35,173.63 L750.77,173.57 L749.19,173.52 L747.61,173.46 L746.03,173.39 L744.45,173.31 L742.87,173.22 L741.29,173.11 L739.71,173.00 L738.13,172.89 L736.55,172.78 L734.97,172.67 L733.39,172.56 L731.81,172.45 L730.23,172.36 L728.65,172.27 L727.07,172.20 L725.49,172.15 L723.91,172.11 L722.33,172.09 L720.75,172.07 L719.17,172.05 L717.59,172.04 L716.01,172.03 L714.43,172.02 L712.85,172.01 L711.27,172.00 L709.69,172.00 L708.11,171.99 L706.53,171.98 L704.95,171.97 L703.37,171.96 L701.79,171.94 L700.21,171.92 L698.63,171.90 L697.05,171.86 L695.47,171.77 L693.89,171.64 L692.31,171.47 L690.73,171.28 L689.15,171.07 L687.57,170.84 L685.99,170.60 L684.41,170.35 L682.83,170.11 L681.25,169.87 L679.67,169.64 L678.09,169.44 L676.51,169.26 L674.93,169.11 L673.35,169.00 L671.77,168.91 L670.19,168.83 L668.61,168.77 L667.03,168.71 L665.45,168.65 L663.87,168.60 L662.29,168.56 L660.71,168.51 L659.13,168.46 L657.55,168.42 L655.97,168.36 L654.39,168.30 L652.81,168.24 L651.23,168.16 L649.65,168.08 L648.07,167.98 L646.49,167.85 L644.91,167.69 L643.33,167.50 L641.75,167.28 L640.17,167.04 L638.59,166.77 L637.01,166.49 L635.43,166.19 L633.85,165.88 L632.27,165.56 L630.69,165.23 L629.11,164.90 L627.53,164.58 L625.95,164.25 L624.37,163.93 L622.79,163.62 L621.21,163.31 L619.63,162.98 L618.05,162.65 L616.47,162.30 L614.89,161.95 L613.32,161.59 L611.74,161.22 L610.16,160.86 L608.58,160.49 L607.00,160.13 L605.42,159.77 L603.84,159.42 L602.26,159.08 L600.68,158.74 L599.10,158.42 L597.52,158.10 L595.94,157.79 L594.36,157.49 L592.78,157.19 L591.20,156.90 L589.62,156.60 L588.04,156.31 L586.46,156.02 L584.88,155.74 L583.30,155.45 L581.72,155.16 L580.14,154.87 L578.56,154.58 L576.98,154.29 L575.40,153.99 L573.82,153.68 L572.24,153.34 L570.66,152.99 L569.08,152.66 L567.50,152.39 L565.92,152.19 L564.34,152.05 L562.76,151.91 L561.18,151.80 L559.60,151.73 L558.02,151.70 L556.44,151.77 L554.86,151.95 L553.28,152.21 L551.70,152.50 L550.12,152.78 L548.54,153.06 L546.96,153.38 L545.38,153.73 L543.80,154.10 Z" fill="#bf00ff" fill-opacity="0.2"/>
<path d="M544.30,113.00 L547.40,124.40 L550.50,130.40 L553.70,135.30 L557.50,139.00 L559.00,140.17 L560.51,141.09 L562.01,141.60 L563.51,141.83 L565.02,141.97 L566.52,141.98 L568.02,141.74 L569.53,141.37 L571.03,141.07 L572.53,141.01 L574.04,141.08 L575.54,141.21 L577.04,141.38 L578.55,141.57 L580.05,141.76 L581.55,141.92 L583.06,142.04 L584.56,142.15 L586.06,142.27 L587.57,142.38 L589.07,142.48 L590.57,142.57 L592.08,142.64 L593.58,142.69 L595.08,142.70 L596.59,142.70 L598.09,142.70 L599.59,142.70 L601.10,142.70 L602.60,142.70 L604.10,142.70 L605.61,142.70 L607.11,142.70 L608.61,142.70 L610.12,142.71 L611.62,142.72 L613.12,142.74 L614.63,142.77 L616.13,142.80 L617.63,142.84 L619.14,142.87 L620.64,142.91 L622.14,142.94 L623.65,142.98 L625.15,143.01 L626.65,143.04 L628.16,143.06 L629.66,143.08 L631.16,143.10 L632.67,143.10 L634.17,143.09 L635.67,143.04 L637.18,142.98 L638.68,142.89 L640.18,142.79 L641.69,142.68 L643.19,142.55 L644.69,142.43 L646.20,142.26 L647.70,141.99 L649.20,141.66 L650.71,141.31 L652.21,140.97 L653.71,140.68 L655.22,140.47 L656.72,140.40 L658.22,140.47 L659.73,140.65 L661.23,140.91 L662.73,141.21 L664.24,141.50 L665.74,141.76 L667.24,141.95 L668.75,142.04 L670.25,142.10 L671.75,142.17 L673.26,142.23 L674.76,142.28 L676.26,142.32 L677.77,142.36 L679.27,142.38 L680.77,142.40 L682.28,142.40 L683.78,142.39 L685.28,142.38 L686.79,142.36 L688.29,142.33 L689.79,142.30 L691.30,142.26 L692.80,142.22 L694.31,142.18 L695.81,142.13 L697.31,142.08 L698.82,142.03 L700.32,141.99 L701.82,141.94 L703.33,141.90 L704.83,141.85 L706.33,141.82 L707.84,141.78 L709.34,141.75 L710.84,141.71 L712.35,141.67 L713.85,141.63 L715.35,141.59 L716.86,141.55 L718.36,141.51 L719.86,141.48 L721.37,141.44 L722.87,141.41 L724.37,141.38 L725.88,141.35 L727.38,141.33 L728.88,141.32 L730.39,141.30 L731.89,141.30 L733.39,141.30 L734.90,141.32 L736.40,141.34 L737.90,141.36 L739.41,141.40 L740.91,141.44 L742.41,141.48 L743.92,141.52 L745.42,141.57 L746.92,141.61 L748.43,141.65 L749.93,141.69 L751.43,141.73 L752.94,141.76 L754.44,141.78 L755.94,141.79 L757.45,141.80 L758.95,141.79 L760.45,141.78 L761.96,141.75 L763.46,141.71 L764.96,141.67 L766.47,141.63 L767.97,141.57 L769.47,141.52 L770.98,141.47 L772.48,141.41 L773.98,141.36 L775.49,141.32 L776.99,141.28 L778.49,141.24 L780.00,141.22 L781.50,141.20 L783.00,141.20 L784.51,141.20 L786.01,141.20 L787.51,141.20 L789.02,141.20 L790.52,141.20 L792.02,141.20 L793.53,141.20 L795.03,141.20 L796.53,141.20 L798.04,141.20 L799.54,141.20 L801.04,141.20 L802.55,141.20 L804.05,141.20 L805.55,141.20 L807.06,141.20 L808.56,141.20 L810.06,141.20 L811.57,141.19 L813.07,141.18 L814.57,141.16 L816.08,141.15 L817.58,141.13 L819.08,141.11 L820.59,141.09 L822.09,141.07 L823.59,141.05 L825.10,141.02 L826.60,141.00 L826.60,162.20 L825.10,162.22 L823.59,162.25 L822.09,162.27 L820.59,162.29 L819.08,162.31 L817.58,162.33 L816.08,162.35 L814.57,162.36 L813.07,162.38 L811.57,162.39 L810.06,162.40 L808.56,162.40 L807.06,162.40 L805.55,162.40 L804.05,162.40 L802.55,162.40 L801.04,162.40 L799.54,162.40 L798.04,162.40 L796.53,162.40 L795.03,162.40 L793.53,162.40 L792.02,162.40 L790.52,162.40 L789.02,162.40 L787.51,162.40 L786.01,162.40 L784.51,162.40 L783.00,162.40 L781.50,162.40 L780.00,162.42 L778.49,162.44 L776.99,162.48 L775.49,162.52 L773.98,162.56 L772.48,162.61 L770.98,162.67 L769.47,162.72 L767.97,162.77 L766.47,162.83 L764.96,162.87 L763.46,162.91 L761.96,162.95 L760.45,162.98 L758.95,162.99 L757.45,163.00 L755.94,162.99 L754.44,162.98 L752.94,162.96 L751.43,162.93 L749.93,162.89 L748.43,162.85 L746.92,162.81 L745.42,162.77 L743.92,162.72 L742.41,162.68 L740.91,162.64 L739.41,162.60 L737.90,162.56 L736.40,162.54 L734.90,162.52 L733.39,162.50 L731.89,162.50 L730.39,162.50 L728.88,162.52 L727.38,162.53 L725.88,162.55 L724.37,162.58 L722.87,162.61 L721.37,162.64 L719.86,162.68 L718.36,162.71 L716.86,162.75 L715.35,162.79 L713.85,162.83 L712.35,162.87 L710.84,162.91 L709.34,162.95 L707.84,162.98 L706.33,163.02 L704.83,163.05 L703.33,163.10 L701.82,163.14 L700.32,163.19 L698.82,163.23 L697.31,163.28 L695.81,163.33 L694.31,163.38 L692.80,163.42 L691.30,163.46 L689.79,163.50 L688.29,163.53 L686.79,163.56 L685.28,163.58 L683.78,163.59 L682.28,163.60 L680.77,163.60 L679.27,163.58 L677.77,163.56 L676.26,163.52 L674.76,163.48 L673.26,163.43 L671.75,163.37 L670.25,163.30 L668.75,163.24 L667.24,163.15 L665.74,162.96 L664.24,162.70 L662.73,162.41 L661.23,162.11 L659.73,161.85 L658.22,161.67 L656.72,161.60 L655.22,161.67 L653.71,161.88 L652.21,162.17 L650.71,162.51 L649.20,162.86 L647.70,163.19 L646.20,163.46 L644.69,163.63 L643.19,163.75 L641.69,163.88 L640.18,163.99 L638.68,164.09 L637.18,164.18 L635.67,164.24 L634.17,164.29 L632.67,164.30 L631.16,164.30 L629.66,164.28 L628.16,164.26 L626.65,164.24 L625.15,164.21 L623.65,164.18 L622.14,164.14 L620.64,164.11 L619.14,164.07 L617.63,164.04 L616.13,164.00 L614.63,163.97 L613.12,163.94 L611.62,163.92 L610.12,163.91 L608.61,163.90 L607.11,163.90 L605.61,163.90 L604.10,163.90 L602.60,163.90 L601.10,163.90 L599.59,163.90 L598.09,163.90 L596.59,163.90 L595.08,163.90 L593.58,163.89 L592.08,163.84 L590.57,163.77 L589.07,163.68 L587.57,163.58 L586.06,163.47 L584.56,163.35 L583.06,163.24 L581.55,163.12 L580.05,162.96 L578.55,162.77 L577.04,162.58 L575.54,162.41 L574.04,162.28 L572.53,162.21 L571.03,162.27 L569.53,162.57 L568.02,162.94 L566.52,163.18 L565.02,163.17 L563.51,163.03 L562.01,162.80 L560.51,162.29 L559.00,161.37 L557.50,160.20 L553.70,156.50 L550.50,151.60 L547.40,145.60 L544.30,134.20 Z" fill="#a02408" fill-opacity="0.2"/>
<path d="M544.30,191.00 L546.00,203.80 L548.00,212.90 L549.56,217.73 L551.11,221.75 L552.67,225.00 L554.23,227.86 L555.78,230.40 L557.34,232.68 L558.89,234.76 L560.45,236.67 L562.01,238.44 L563.56,240.06 L565.12,241.57 L566.68,242.98 L568.23,244.36 L569.79,245.69 L571.35,246.93 L572.90,248.05 L574.46,249.02 L576.02,249.81 L577.57,250.50 L579.13,251.18 L580.68,251.81 L582.24,252.38 L583.80,252.83 L585.35,253.15 L586.91,253.29 L588.47,253.24 L590.02,252.99 L591.58,252.60 L593.14,252.09 L594.69,251.53 L596.25,250.94 L597.81,250.38 L599.36,249.89 L600.92,249.34 L602.47,248.71 L604.03,248.05 L605.59,247.39 L607.14,246.80 L608.70,246.31 L610.26,245.96 L611.81,245.80 L613.37,245.82 L614.93,245.91 L616.48,246.05 L618.04,246.23 L619.60,246.44 L621.15,246.67 L622.71,246.89 L624.26,247.11 L625.82,247.31 L627.38,247.53 L628.93,247.78 L630.49,248.04 L632.05,248.29 L633.60,248.52 L635.16,248.73 L636.72,248.88 L638.27,249.01 L639.83,249.12 L641.39,249.23 L642.94,249.33 L644.50,249.42 L646.05,249.51 L647.61,249.59 L649.17,249.67 L650.72,249.74 L652.28,249.81 L653.84,249.88 L655.39,249.95 L656.95,250.01 L658.51,250.08 L660.06,250.14 L661.62,250.20 L663.18,250.27 L664.73,250.32 L666.29,250.37 L667.84,250.42 L669.40,250.47 L670.96,250.51 L672.51,250.55 L674.07,250.59 L675.63,250.64 L677.18,250.68 L678.74,250.73 L680.30,250.79 L681.85,250.84 L683.41,250.91 L684.97,250.98 L686.52,251.06 L688.08,251.16 L689.63,251.30 L691.19,251.48 L692.75,251.68 L694.30,251.89 L695.86,252.11 L697.42,252.32 L698.97,252.50 L700.53,252.65 L702.09,252.80 L703.64,252.96 L705.20,253.11 L706.76,253.25 L708.31,253.36 L709.87,253.45 L711.42,253.50 L712.98,253.49 L714.54,253.45 L716.09,253.38 L717.65,253.28 L719.21,253.17 L720.76,253.05 L722.32,252.93 L723.88,252.81 L725.43,252.69 L726.99,252.57 L728.55,252.43 L730.10,252.29 L731.66,252.14 L733.21,251.99 L734.77,251.83 L736.33,251.68 L737.88,251.52 L739.44,251.35 L741.00,251.17 L742.55,250.98 L744.11,250.80 L745.67,250.62 L747.22,250.45 L748.78,250.30 L750.34,250.17 L751.89,250.05 L753.45,249.93 L755.00,249.81 L756.56,249.70 L758.12,249.60 L759.67,249.54 L761.23,249.50 L762.79,249.51 L764.34,249.57 L765.90,249.66 L767.46,249.79 L769.01,249.94 L770.57,250.09 L772.13,250.24 L773.68,250.38 L775.24,250.50 L776.79,250.65 L778.35,250.81 L779.91,250.97 L781.46,251.12 L783.02,251.25 L784.58,251.34 L786.13,251.39 L787.69,251.40 L789.25,251.39 L790.80,251.38 L792.36,251.37 L793.92,251.36 L795.47,251.34 L797.03,251.31 L798.58,251.29 L800.14,251.27 L801.70,251.24 L803.25,251.22 L804.81,251.19 L806.37,251.17 L807.92,251.15 L809.48,251.13 L811.04,251.11 L812.59,251.10 L814.15,251.08 L815.71,251.07 L817.26,251.06 L818.82,251.05 L820.37,251.04 L821.93,251.03 L823.49,251.02 L825.04,251.01 L826.60,251.00 L826.60,266.20 L825.04,266.21 L823.49,266.22 L821.93,266.23 L820.37,266.24 L818.82,266.25 L817.26,266.26 L815.71,266.27 L814.15,266.28 L812.59,266.30 L811.04,266.31 L809.48,266.33 L807.92,266.35 L806.37,266.37 L804.81,266.39 L803.25,266.42 L801.70,266.44 L800.14,266.47 L798.58,266.49 L797.03,266.51 L795.47,266.54 L793.92,266.56 L792.36,266.57 L790.80,266.58 L789.25,266.59 L787.69,266.60 L786.13,266.59 L784.58,266.54 L783.02,266.45 L781.46,266.32 L779.91,266.17 L778.35,266.01 L776.79,265.85 L775.24,265.70 L773.68,265.58 L772.13,265.44 L770.57,265.29 L769.01,265.14 L767.46,264.99 L765.90,264.86 L764.34,264.77 L762.79,264.71 L761.23,264.70 L759.67,264.74 L758.12,264.80 L756.56,264.90 L755.00,265.01 L753.45,265.13 L751.89,265.25 L750.34,265.37 L748.78,265.50 L747.22,265.65 L745.67,265.82 L744.11,266.00 L742.55,266.18 L741.00,266.37 L739.44,266.55 L737.88,266.72 L736.33,266.88 L734.77,267.03 L733.21,267.19 L731.66,267.34 L730.10,267.49 L728.55,267.63 L726.99,267.77 L725.43,267.89 L723.88,268.01 L722.32,268.13 L720.76,268.25 L719.21,268.37 L717.65,268.48 L716.09,268.58 L714.54,268.65 L712.98,268.69 L711.42,268.70 L709.87,268.65 L708.31,268.56 L706.76,268.45 L705.20,268.31 L703.64,268.16 L702.09,268.00 L700.53,267.85 L698.97,267.70 L697.42,267.52 L695.86,267.31 L694.30,267.09 L692.75,266.88 L691.19,266.68 L689.63,266.50 L688.08,266.36 L686.52,266.26 L684.97,266.18 L683.41,266.11 L681.85,266.04 L680.30,265.99 L678.74,265.93 L677.18,265.88 L675.63,265.84 L674.07,265.79 L672.51,265.75 L670.96,265.71 L669.40,265.67 L667.84,265.62 L666.29,265.57 L664.73,265.52 L663.18,265.47 L661.62,265.40 L660.06,265.34 L658.51,265.28 L656.95,265.21 L655.39,265.15 L653.84,265.08 L652.28,265.01 L650.72,264.94 L649.17,264.87 L647.61,264.79 L646.05,264.71 L644.50,264.62 L642.94,264.53 L641.39,264.43 L639.83,264.32 L638.27,264.21 L636.72,264.08 L635.16,263.93 L633.60,263.72 L632.05,263.49 L630.49,263.24 L628.93,262.98 L627.38,262.73 L625.82,262.51 L624.26,262.31 L622.71,262.09 L621.15,261.87 L619.60,261.64 L618.04,261.43 L616.48,261.25 L614.93,261.11 L613.37,261.02 L611.81,261.00 L610.26,261.16 L608.70,261.51 L607.14,262.00 L605.59,262.59 L604.03,263.25 L602.47,263.91 L600.92,264.54 L599.36,265.09 L597.81,265.58 L596.25,266.14 L594.69,266.73 L593.14,267.29 L591.58,267.80 L590.02,268.19 L588.47,268.44 L586.91,268.49 L585.35,268.35 L583.80,268.03 L582.24,267.58 L580.68,267.01 L579.13,266.38 L577.57,265.70 L576.02,265.01 L574.46,264.22 L572.90,263.25 L571.35,262.13 L569.79,260.89 L568.23,259.56 L566.68,258.18 L565.12,256.77 L563.56,255.26 L562.01,253.64 L560.45,251.87 L558.89,249.96 L557.34,247.88 L555.78,245.60 L554.23,243.06 L552.67,240.20 L551.11,236.95 L549.56,232.93 L548.00,228.10 L546.00,219.00 L544.30,206.20 Z" fill="#7ab800" fill-opacity="0.2"/>
<path d="M543.80,143.50 L545.38,143.13 L546.96,142.78 L548.54,142.46 L550.12,142.18 L551.70,141.90 L553.28,141.61 L554.86,141.35 L556.44,141.17 L558.02,141.10 L559.60,141.13 L561.18,141.20 L562.76,141.31 L564.34,141.45 L565.92,141.59 L567.50,141.79 L569.08,142.06 L570.66,142.39 L572.24,142.74 L573.82,143.08 L575.40,143.39 L576.98,143.69 L578.56,143.98 L580.14,144.27 L581.72,144.56 L583.30,144.85 L584.88,145.14 L586.46,145.42 L588.04,145.71 L589.62,146.00 L591.20,146.30 L592.78,146.59 L594.36,146.89 L595.94,147.19 L597.52,147.50 L599.10,147.82 L600.68,148.14 L602.26,148.48 L603.84,148.82 L605.42,149.17 L607.00,149.53 L608.58,149.89 L610.16,150.26 L611.74,150.62 L613.32,150.99 L614.89,151.35 L616.47,151.70 L618.05,152.05 L619.63,152.38 L621.21,152.71 L622.79,153.02 L624.37,153.33 L625.95,153.65 L627.53,153.98 L629.11,154.30 L630.69,154.63 L632.27,154.96 L633.85,155.28 L635.43,155.59 L637.01,155.89 L638.59,156.17 L640.17,156.44 L641.75,156.68 L643.33,156.90 L644.91,157.09 L646.49,157.25 L648.07,157.38 L649.65,157.48 L651.23,157.56 L652.81,157.64 L654.39,157.70 L655.97,157.76 L657.55,157.82 L659.13,157.86 L660.71,157.91 L662.29,157.96 L663.87,158.00 L665.45,158.05 L667.03,158.11 L668.61,158.17 L670.19,158.23 L671.77,158.31 L673.35,158.40 L674.93,158.51 L676.51,158.66 L678.09,158.84 L679.67,159.04 L681.25,159.27 L682.83,159.51 L684.41,159.75 L685.99,160.00 L687.57,160.24 L689.15,160.47 L690.73,160.68 L692.31,160.87 L693.89,161.04 L695.47,161.17 L697.05,161.26 L698.63,161.30 L700.21,161.32 L701.79,161.34 L703.37,161.36 L704.95,161.37 L706.53,161.38 L708.11,161.39 L709.69,161.40 L711.27,161.40 L712.85,161.41 L714.43,161.42 L716.01,161.43 L717.59,161.44 L719.17,161.45 L720.75,161.47 L722.33,161.49 L723.91,161.51 L725.49,161.55 L727.07,161.60 L728.65,161.67 L730.23,161.76 L731.81,161.85 L733.39,161.96 L734.97,162.07 L736.55,162.18 L738.13,162.29 L739.71,162.40 L741.29,162.51 L742.87,162.62 L744.45,162.71 L746.03,162.79 L747.61,162.86 L749.19,162.92 L750.77,162.97 L752.35,163.03 L753.93,163.08 L755.51,163.13 L757.08,163.18 L758.66,163.23 L760.24,163.28 L761.82,163.32 L763.40,163.36 L764.98,163.40 L766.56,163.43 L768.14,163.46 L769.72,163.48 L771.30,163.49 L772.88,163.50 L774.46,163.50 L776.04,163.50 L777.62,163.50 L779.20,163.50 L780.78,163.50 L782.36,163.50 L783.94,163.50 L785.52,163.50 L787.10,163.50 L788.68,163.50 L790.26,163.50 L791.84,163.50 L793.42,163.50 L795.00,163.50 L796.58,163.50 L798.16,163.50 L799.74,163.50 L801.32,163.52 L802.90,163.55 L804.48,163.59 L806.06,163.66 L807.64,163.73 L809.22,163.82 L810.80,163.91 L812.38,164.02 L813.96,164.13 L815.54,164.24 L817.12,164.41 L818.70,164.62 L820.28,164.88 L821.86,165.18 L823.44,165.50 L825.02,165.85 L826.60,166.20" stroke="#bf00ff" stroke-width="12.6" stroke-dasharray="12.8 12.35"/>
<path d="M544.30,123.60 L547.40,135.00 L550.50,141.00 L553.70,145.90 L557.50,149.60 L559.00,150.77 L560.51,151.69 L562.01,152.20 L563.51,152.43 L565.02,152.57 L566.52,152.58 L568.02,152.34 L569.53,151.97 L571.03,151.67 L572.53,151.61 L574.04,151.68 L575.54,151.81 L577.04,151.98 L578.55,152.17 L580.05,152.36 L581.55,152.52 L583.06,152.64 L584.56,152.75 L586.06,152.87 L587.57,152.98 L589.07,153.08 L590.57,153.17 L592.08,153.24 L593.58,153.29 L595.08,153.30 L596.59,153.30 L598.09,153.30 L599.59,153.30 L601.10,153.30 L602.60,153.30 L604.10,153.30 L605.61,153.30 L607.11,153.30 L608.61,153.30 L610.12,153.31 L611.62,153.32 L613.12,153.34 L614.63,153.37 L616.13,153.40 L617.63,153.44 L619.14,153.47 L620.64,153.51 L622.14,153.54 L623.65,153.58 L625.15,153.61 L626.65,153.64 L628.16,153.66 L629.66,153.68 L631.16,153.70 L632.67,153.70 L634.17,153.69 L635.67,153.64 L637.18,153.58 L638.68,153.49 L640.18,153.39 L641.69,153.28 L643.19,153.15 L644.69,153.03 L646.20,152.86 L647.70,152.59 L649.20,152.26 L650.71,151.91 L652.21,151.57 L653.71,151.28 L655.22,151.07 L656.72,151.00 L658.22,151.07 L659.73,151.25 L661.23,151.51 L662.73,151.81 L664.24,152.10 L665.74,152.36 L667.24,152.55 L668.75,152.64 L670.25,152.70 L671.75,152.77 L673.26,152.83 L674.76,152.88 L676.26,152.92 L677.77,152.96 L679.27,152.98 L680.77,153.00 L682.28,153.00 L683.78,152.99 L685.28,152.98 L686.79,152.96 L688.29,152.93 L689.79,152.90 L691.30,152.86 L692.80,152.82 L694.31,152.78 L695.81,152.73 L697.31,152.68 L698.82,152.63 L700.32,152.59 L701.82,152.54 L703.33,152.50 L704.83,152.45 L706.33,152.42 L707.84,152.38 L709.34,152.35 L710.84,152.31 L712.35,152.27 L713.85,152.23 L715.35,152.19 L716.86,152.15 L718.36,152.11 L719.86,152.08 L721.37,152.04 L722.87,152.01 L724.37,151.98 L725.88,151.95 L727.38,151.93 L728.88,151.92 L730.39,151.90 L731.89,151.90 L733.39,151.90 L734.90,151.92 L736.40,151.94 L737.90,151.96 L739.41,152.00 L740.91,152.04 L742.41,152.08 L743.92,152.12 L745.42,152.17 L746.92,152.21 L748.43,152.25 L749.93,152.29 L751.43,152.33 L752.94,152.36 L754.44,152.38 L755.94,152.39 L757.45,152.40 L758.95,152.39 L760.45,152.38 L761.96,152.35 L763.46,152.31 L764.96,152.27 L766.47,152.23 L767.97,152.17 L769.47,152.12 L770.98,152.07 L772.48,152.01 L773.98,151.96 L775.49,151.92 L776.99,151.88 L778.49,151.84 L780.00,151.82 L781.50,151.80 L783.00,151.80 L784.51,151.80 L786.01,151.80 L787.51,151.80 L789.02,151.80 L790.52,151.80 L792.02,151.80 L793.53,151.80 L795.03,151.80 L796.53,151.80 L798.04,151.80 L799.54,151.80 L801.04,151.80 L802.55,151.80 L804.05,151.80 L805.55,151.80 L807.06,151.80 L808.56,151.80 L810.06,151.80 L811.57,151.79 L813.07,151.78 L814.57,151.76 L816.08,151.75 L817.58,151.73 L819.08,151.71 L820.59,151.69 L822.09,151.67 L823.59,151.65 L825.10,151.62 L826.60,151.60" stroke="#a02408" stroke-width="12.6" stroke-dasharray="12.8 12.35" stroke-dashoffset="1.2"/>
<path d="M544.30,198.60 L546.00,211.40 L548.00,220.50 L549.56,225.33 L551.11,229.35 L552.67,232.60 L554.23,235.46 L555.78,238.00 L557.34,240.28 L558.89,242.36 L560.45,244.27 L562.01,246.04 L563.56,247.66 L565.12,249.17 L566.68,250.58 L568.23,251.96 L569.79,253.29 L571.35,254.53 L572.90,255.65 L574.46,256.62 L576.02,257.41 L577.57,258.10 L579.13,258.78 L580.68,259.41 L582.24,259.98 L583.80,260.43 L585.35,260.75 L586.91,260.89 L588.47,260.84 L590.02,260.59 L591.58,260.20 L593.14,259.69 L594.69,259.13 L596.25,258.54 L597.81,257.98 L599.36,257.49 L600.92,256.94 L602.47,256.31 L604.03,255.65 L605.59,254.99 L607.14,254.40 L608.70,253.91 L610.26,253.56 L611.81,253.40 L613.37,253.42 L614.93,253.51 L616.48,253.65 L618.04,253.83 L619.60,254.04 L621.15,254.27 L622.71,254.49 L624.26,254.71 L625.82,254.91 L627.38,255.13 L628.93,255.38 L630.49,255.64 L632.05,255.89 L633.60,256.12 L635.16,256.33 L636.72,256.48 L638.27,256.61 L639.83,256.72 L641.39,256.83 L642.94,256.93 L644.50,257.02 L646.05,257.11 L647.61,257.19 L649.17,257.27 L650.72,257.34 L652.28,257.41 L653.84,257.48 L655.39,257.55 L656.95,257.61 L658.51,257.68 L660.06,257.74 L661.62,257.80 L663.18,257.87 L664.73,257.92 L666.29,257.97 L667.84,258.02 L669.40,258.07 L670.96,258.11 L672.51,258.15 L674.07,258.19 L675.63,258.24 L677.18,258.28 L678.74,258.33 L680.30,258.39 L681.85,258.44 L683.41,258.51 L684.97,258.58 L686.52,258.66 L688.08,258.76 L689.63,258.90 L691.19,259.08 L692.75,259.28 L694.30,259.49 L695.86,259.71 L697.42,259.92 L698.97,260.10 L700.53,260.25 L702.09,260.40 L703.64,260.56 L705.20,260.71 L706.76,260.85 L708.31,260.96 L709.87,261.05 L711.42,261.10 L712.98,261.09 L714.54,261.05 L716.09,260.98 L717.65,260.88 L719.21,260.77 L720.76,260.65 L722.32,260.53 L723.88,260.41 L725.43,260.29 L726.99,260.17 L728.55,260.03 L730.10,259.89 L731.66,259.74 L733.21,259.59 L734.77,259.43 L736.33,259.28 L737.88,259.12 L739.44,258.95 L741.00,258.77 L742.55,258.58 L744.11,258.40 L745.67,258.22 L747.22,258.05 L748.78,257.90 L750.34,257.77 L751.89,257.65 L753.45,257.53 L755.00,257.41 L756.56,257.30 L758.12,257.20 L759.67,257.14 L761.23,257.10 L762.79,257.11 L764.34,257.17 L765.90,257.26 L767.46,257.39 L769.01,257.54 L770.57,257.69 L772.13,257.84 L773.68,257.98 L775.24,258.10 L776.79,258.25 L778.35,258.41 L779.91,258.57 L781.46,258.72 L783.02,258.85 L784.58,258.94 L786.13,258.99 L787.69,259.00 L789.25,258.99 L790.80,258.98 L792.36,258.97 L793.92,258.96 L795.47,258.94 L797.03,258.91 L798.58,258.89 L800.14,258.87 L801.70,258.84 L803.25,258.82 L804.81,258.79 L806.37,258.77 L807.92,258.75 L809.48,258.73 L811.04,258.71 L812.59,258.70 L814.15,258.68 L815.71,258.67 L817.26,258.66 L818.82,258.65 L820.37,258.64 L821.93,258.63 L823.49,258.62 L825.04,258.61 L826.60,258.60" stroke="#7ab800" stroke-width="12.6" stroke-dasharray="12.8 12.35"/>
<line x1="543.87" y1="360.6" x2="826.8" y2="360.6" stroke="#ff0010" stroke-width="12.2"/>
</g>
<g stroke="#808080" stroke-width="1.0" fill="none">
<line x1="221.5" y1="365.75" x2="221.5" y2="353.85"/>
<line x1="221.5" y1="77.15" x2="221.5" y2="89.05"/>
<line x1="336.5" y1="365.75" x2="336.5" y2="353.85"/>
<line x1="336.5" y1="77.15" x2="336.5" y2="89.05"/>
<line x1="653.5" y1="365.75" x2="653.5" y2="353.85"/>
<line x1="653.5" y1="77.15" x2="653.5" y2="89.05"/>
<line x1="768.5" y1="365.75" x2="768.5" y2="353.85"/>
<line x1="768.5" y1="77.15" x2="768.5" y2="89.05"/>
<line x1="106.05" y1="228.5" x2="117.95" y2="228.5"/>
<line x1="394.7" y1="228.5" x2="382.80" y2="228.5"/>
<line x1="106.05" y1="90.5" x2="117.95" y2="90.5"/>
<line x1="394.7" y1="90.5" x2="382.80" y2="90.5"/>
<line x1="538.1" y1="158.5" x2="550.00" y2="158.5"/>
<line x1="826.8" y1="158.5" x2="814.90" y2="158.5"/>
<line x1="538.1" y1="259.5" x2="550.00" y2="259.5"/>
<line x1="826.8" y1="259.5" x2="814.90" y2="259.5"/>
<line x1="538.1" y1="360.5" x2="550.00" y2="360.5"/>
<line x1="826.8" y1="360.5" x2="814.90" y2="360.5"/>
</g>
<g stroke="#000" stroke-width="2.1" fill="none">
<rect x="106.05" y="77.15" width="288.65" height="288.6"/>
<rect x="538.1" y="77.15" width="288.69999999999993" height="288.6"/>
</g>
<g font-family="'Liberation Serif', serif" fill="#000" stroke="#fff" stroke-width="0.5">
<text x="174.9" y="48.3" font-size="50" text-anchor="start" textLength="150.5" lengthAdjust="spacingAndGlyphs">Return</text>
<text x="521.6" y="48.5" font-size="50" text-anchor="start" textLength="100.3" lengthAdjust="spacingAndGlyphs">Con.</text>
<text x="645.2" y="48.5" font-size="50" text-anchor="start" textLength="196.5" lengthAdjust="spacingAndGlyphs">Violation</text>
<text x="65.8" y="106.6" font-size="50" text-anchor="start">1</text>
<text x="27.9" y="244.0" font-size="50" text-anchor="start" textLength="62.8" lengthAdjust="spacingAndGlyphs">0.5</text>
<text x="66.3" y="382.2" font-size="50" text-anchor="start" textLength="26" lengthAdjust="spacingAndGlyphs">0</text>
<text x="93.45" y="413.0" font-size="50" text-anchor="start" textLength="26" lengthAdjust="spacingAndGlyphs">0</text>
<text x="196.05" y="413.0" font-size="50" text-anchor="start">20</text>
<text x="311.85" y="413.0" font-size="50" text-anchor="start">40</text>
<text x="525.5" y="413.0" font-size="50" text-anchor="start" textLength="26" lengthAdjust="spacingAndGlyphs">0</text>
<text x="628.1" y="413.0" font-size="50" text-anchor="start">20</text>
<text x="743.9000000000001" y="413.0" font-size="50" text-anchor="start">40</text>
<text x="432.4" y="175.3" font-size="50" text-anchor="start">20</text>
<text x="432.0" y="276.3" font-size="50" text-anchor="start">10</text>
<text x="456.8" y="378.6" font-size="50" text-anchor="start" textLength="26" lengthAdjust="spacingAndGlyphs">0</text>
<text x="482.6" y="177.9" font-size="60" text-anchor="start" textLength="40.0" lengthAdjust="spacingAndGlyphs">%</text>
<text x="482.6" y="278.90000000000003" font-size="60" text-anchor="start" textLength="40.0" lengthAdjust="spacingAndGlyphs">%</text>
<text x="482.6" y="381.3" font-size="60" text-anchor="start" textLength="40.0" lengthAdjust="spacingAndGlyphs">%</text>
<text x="151.2" y="464.0" font-size="50" text-anchor="start" textLength="171.5" lengthAdjust="spacingAndGlyphs">Number</text>
<text x="340.3" y="464.0" font-size="50" text-anchor="start" textLength="43.0" lengthAdjust="spacingAndGlyphs">of</text>
<text x="396.5" y="464.0" font-size="50" text-anchor="start" textLength="338.5" lengthAdjust="spacingAndGlyphs">Demonstrations</text>
</g>
</svg>
</body>
</html>
